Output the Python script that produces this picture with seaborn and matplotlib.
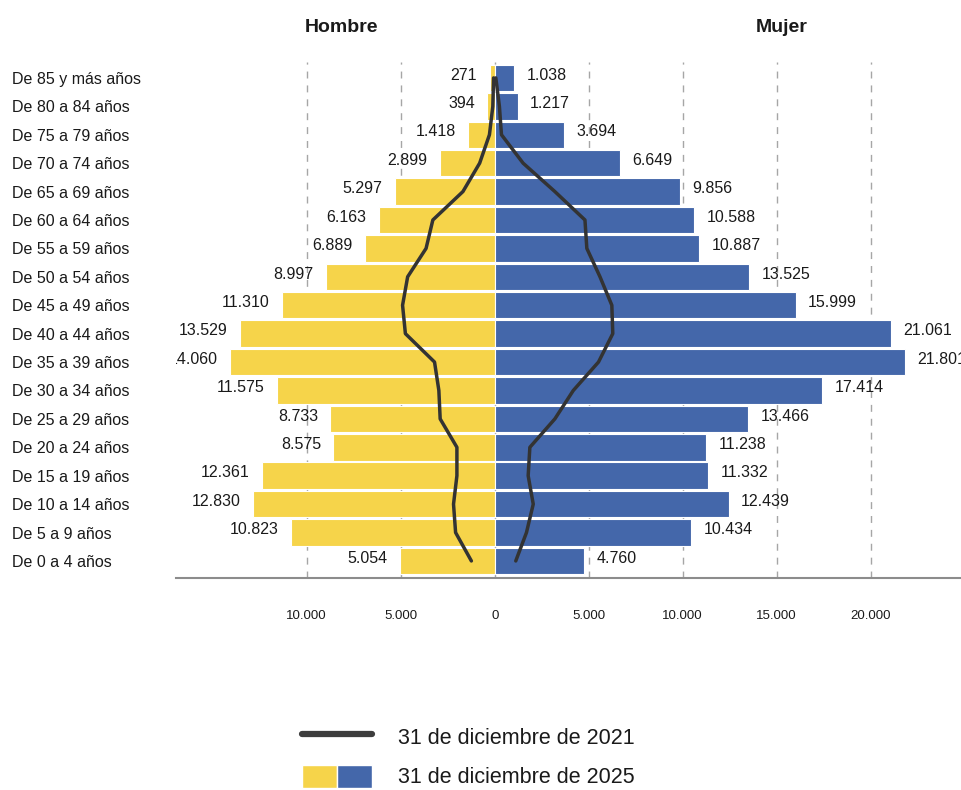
import numpy as np
import pandas as pd
import seaborn as sns
import matplotlib.pyplot as plt
from matplotlib.lines import Line2D
from matplotlib.patches import Patch
from matplotlib.legend_handler import HandlerTuple

# Grupos de edad (de arriba hacia abajo)
edades = ["De 85 y más años", "De 80 a 84 años", "De 75 a 79 años", "De 70 a 74 años",
          "De 65 a 69 años", "De 60 a 64 años", "De 55 a 59 años", "De 50 a 54 años",
          "De 45 a 49 años", "De 40 a 44 años", "De 35 a 39 años", "De 30 a 34 años",
          "De 25 a 29 años", "De 20 a 24 años", "De 15 a 19 años", "De 10 a 14 años",
          "De 5 a 9 años", "De 0 a 4 años"]

# 31 de diciembre de 2025
hombre_2025 = [271, 394, 1418, 2899, 5297, 6163, 6889, 8997, 11310, 13529, 14060,
               11575, 8733, 8575, 12361, 12830, 10823, 5054]
mujer_2025 = [1038, 1217, 3694, 6649, 9856, 10588, 10887, 13525, 15999, 21061, 21801,
              17414, 13466, 11238, 11332, 12439, 10434, 4760]

# 31 de diciembre de 2021
hombre_2021 = [60, 100, 280, 800, 1690, 3290, 3650, 4630, 4900, 4750, 3200, 2970,
               2900, 2010, 2010, 2190, 2080, 1240]
mujer_2021 = [60, 250, 360, 1510, 3200, 4800, 4900, 5600, 6230, 6280, 5520, 4180,
              3200, 1870, 1780, 2050, 1690, 1120]

ticks = [-10000, -5000, 0, 5000, 10000, 15000, 20000]

AMARILLO = "#F6D44A"
AZUL = "#4467AA"
LINEA = "#333333"


def miles(v):
    return f"{abs(int(v)):,}".replace(",", ".")


sns.set_theme(style="white")
plt.rcParams["font.family"] = ["Liberation Sans", "DejaVu Sans"]

df = pd.DataFrame({
    "edad": edades,
    "pos": np.arange(len(edades)),
    "hombre": -np.array(hombre_2025),
    "mujer": np.array(mujer_2025),
    "hombre21": -np.array(hombre_2021),
    "mujer21": np.array(mujer_2021),
})

fig = plt.figure(figsize=(9.61, 7.90), dpi=100)
ax = fig.add_axes([176 / 961, 1 - 578 / 790, 1 - 176 / 961, (578 - 62) / 790])

sns.barplot(data=df, x="hombre", y="edad", orient="h", color=AMARILLO, saturation=1,
            width=0.93, edgecolor="white", linewidth=0.8, ax=ax)
sns.barplot(data=df, x="mujer", y="edad", orient="h", color=AZUL, saturation=1,
            width=0.93, edgecolor="white", linewidth=0.8, ax=ax)

sns.lineplot(data=df, x="hombre21", y="pos", orient="y", sort=False, estimator=None,
             color=LINEA, linewidth=2.5, legend=False, ax=ax)
sns.lineplot(data=df, x="mujer21", y="pos", orient="y", sort=False, estimator=None,
             color=LINEA, linewidth=2.5, legend=False, ax=ax)

# etiquetas de valores
for i, v in enumerate(hombre_2025):
    ax.annotate(miles(v), xy=(-v, i), xytext=(-9, 2), textcoords="offset points",
                ha="right", va="center", fontsize=11.5, color="#1a1a1a", clip_on=True)
for i, v in enumerate(mujer_2025):
    ax.annotate(miles(v), xy=(v, i), xytext=(9, 2), textcoords="offset points",
                ha="left", va="center", fontsize=11.5, color="#1a1a1a", clip_on=True)

ax.set_xlim(-16950, 24800)
ax.set_ylim(17.6, -0.56)
ax.set_xlabel("")
ax.set_ylabel("")

ax.set_xticks(ticks)
ax.set_xticklabels([miles(t) for t in ticks], fontsize=9.5)
ax.tick_params(axis="x", length=0, pad=23, colors="#1a1a1a")
ax.tick_params(axis="y", length=0, pad=118, labelsize=11.5, colors="#1a1a1a")
for lab in ax.get_yticklabels():
    lab.set_ha("left")

ax.set_axisbelow(True)
ax.xaxis.grid(True, linestyle=(0, (5, 5)), color="#a6a6a6", linewidth=1)
ax.yaxis.grid(False)
for s in ["top", "right", "left"]:
    ax.spines[s].set_visible(False)
ax.spines["bottom"].set_color("#8c8c8c")
ax.spines["bottom"].set_linewidth(1.5)

fig.text(342 / 961, 1 - 27 / 790, "Hombre", ha="center", va="center",
         fontsize=14, fontweight="bold", color="#1a1a1a")
fig.text(782 / 961, 1 - 27 / 790, "Mujer", ha="center", va="center",
         fontsize=14, fontweight="bold", color="#1a1a1a")

# leyenda
h_linea = Line2D([], [], color="#3d3d3d", linewidth=4.5)
h_barras = (Patch(facecolor=AMARILLO), Patch(facecolor=AZUL))
fig.legend([h_linea, h_barras], ["31 de diciembre de 2021", "31 de diciembre de 2025"],
           handler_map={tuple: HandlerTuple(ndivide=None, pad=0)},
           loc="upper left", bbox_to_anchor=(302 / 961, 1 - 725 / 790),
           frameon=False, fontsize=15.5, handlelength=3.25, handleheight=1.25,
           handletextpad=1.2, labelspacing=0.75, borderpad=0, borderaxespad=0,
           labelcolor="#1a1a1a")

fig.savefig("out.png", dpi=100)
